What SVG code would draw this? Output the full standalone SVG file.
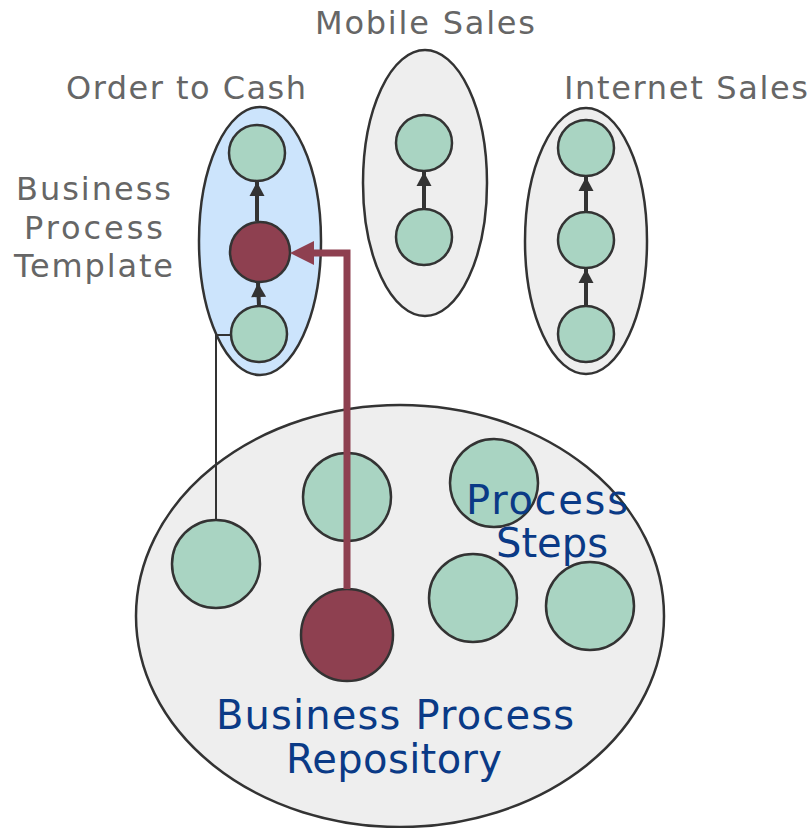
<svg xmlns="http://www.w3.org/2000/svg" width="812" height="828" viewBox="0 0 812 828">
<style>
.grp{fill:#eeeeee;stroke:#333;stroke-width:2.5}
.tpl{fill:#cce4fc;stroke:#333;stroke-width:2.5}
.g{fill:#a9d4c2;stroke:#333;stroke-width:2.5}
.r{fill:#8e4050;stroke:#333;stroke-width:2.5}
.lbl{font-family:"DejaVu Sans",Verdana,sans-serif;font-size:32px;fill:#666}
.blue{font-family:"DejaVu Sans",Verdana,sans-serif;font-size:40px;fill:#0a3a86}
.arr{stroke:#333;stroke-width:4;fill:none}
</style>
<defs>
<marker id="ah" markerUnits="userSpaceOnUse" markerWidth="18" markerHeight="18" viewBox="0 0 18 18" refX="15" refY="9" orient="auto">
<path d="M1,1.5 L15,9 L1,16.5 Z" fill="#333"/>
</marker>
</defs>

<g id="repository">
<ellipse class="grp" cx="400" cy="616" rx="264" ry="211"/>
</g>
<g id="order-to-cash">
<ellipse class="tpl" cx="260" cy="241" rx="61" ry="134"/>
</g>
<g id="mobile-sales">
<ellipse class="grp" cx="425" cy="183" rx="62" ry="133"/>
</g>
<g id="internet-sales">
<ellipse class="grp" cx="586" cy="241" rx="61" ry="133"/>
</g>

<g id="otc-step3"><circle class="g" cx="257" cy="153" r="28"/></g>
<g id="otc-step2"><circle class="r" cx="260" cy="252" r="30"/></g>
<g id="otc-step1"><circle class="g" cx="259" cy="334" r="28"/></g>

<g id="ms-step2"><circle class="g" cx="424" cy="143" r="28"/></g>
<g id="ms-step1"><circle class="g" cx="424" cy="237" r="28"/></g>

<g id="is-step3"><circle class="g" cx="586" cy="148" r="28"/></g>
<g id="is-step2"><circle class="g" cx="586" cy="240" r="28"/></g>
<g id="is-step1"><circle class="g" cx="586" cy="334" r="28"/></g>

<g id="repo-step-a"><circle class="g" cx="216" cy="564" r="44"/></g>
<g id="repo-step-b"><circle class="g" cx="347" cy="497" r="44"/></g>
<g id="repo-step-c"><circle class="g" cx="494" cy="483" r="44"/></g>
<g id="repo-step-d"><circle class="r" cx="347" cy="635" r="46"/></g>
<g id="repo-step-e"><circle class="g" cx="473" cy="598" r="44"/></g>
<g id="repo-step-f"><circle class="g" cx="590" cy="606" r="44"/></g>

<g id="connectors">
<line class="arr" x1="257" y1="221" x2="257" y2="182" marker-end="url(#ah)"/>
<line class="arr" x1="259" y1="306" x2="258" y2="283" marker-end="url(#ah)"/>
<line class="arr" x1="424" y1="209" x2="424" y2="172" marker-end="url(#ah)"/>
<line class="arr" x1="586" y1="212" x2="586" y2="177" marker-end="url(#ah)"/>
<line class="arr" x1="586" y1="306" x2="586" y2="269" marker-end="url(#ah)"/>
<path d="M216,520 V335 H232" fill="none" stroke="#333" stroke-width="2"/>
<path d="M347,589 V253 H312" fill="none" stroke="#8e4050" stroke-width="7"/>
<polygon points="290,253 314,241 314,265" fill="#8e4050"/>
</g>

<g id="labels">
<text class="lbl" x="66" y="99" textLength="240" lengthAdjust="spacing">Order to Cash</text>
<text class="lbl" x="315" y="34" textLength="220" lengthAdjust="spacing">Mobile Sales</text>
<text class="lbl" x="564" y="99" textLength="244" lengthAdjust="spacing">Internet Sales</text>
<text class="lbl" x="16" y="200" textLength="155" lengthAdjust="spacing">Business</text>
<text class="lbl" x="24" y="239" textLength="139" lengthAdjust="spacing">Process</text>
<text class="lbl" x="14" y="277" textLength="159" lengthAdjust="spacing">Template</text>
<text class="blue" x="466" y="514" textLength="162" lengthAdjust="spacing">Process</text>
<text class="blue" x="496" y="557" textLength="112" lengthAdjust="spacing">Steps</text>
<text class="blue" x="216" y="729" textLength="358" lengthAdjust="spacing">Business Process</text>
<text class="blue" x="286" y="773" textLength="216" lengthAdjust="spacing">Repository</text>
</g>
</svg>
